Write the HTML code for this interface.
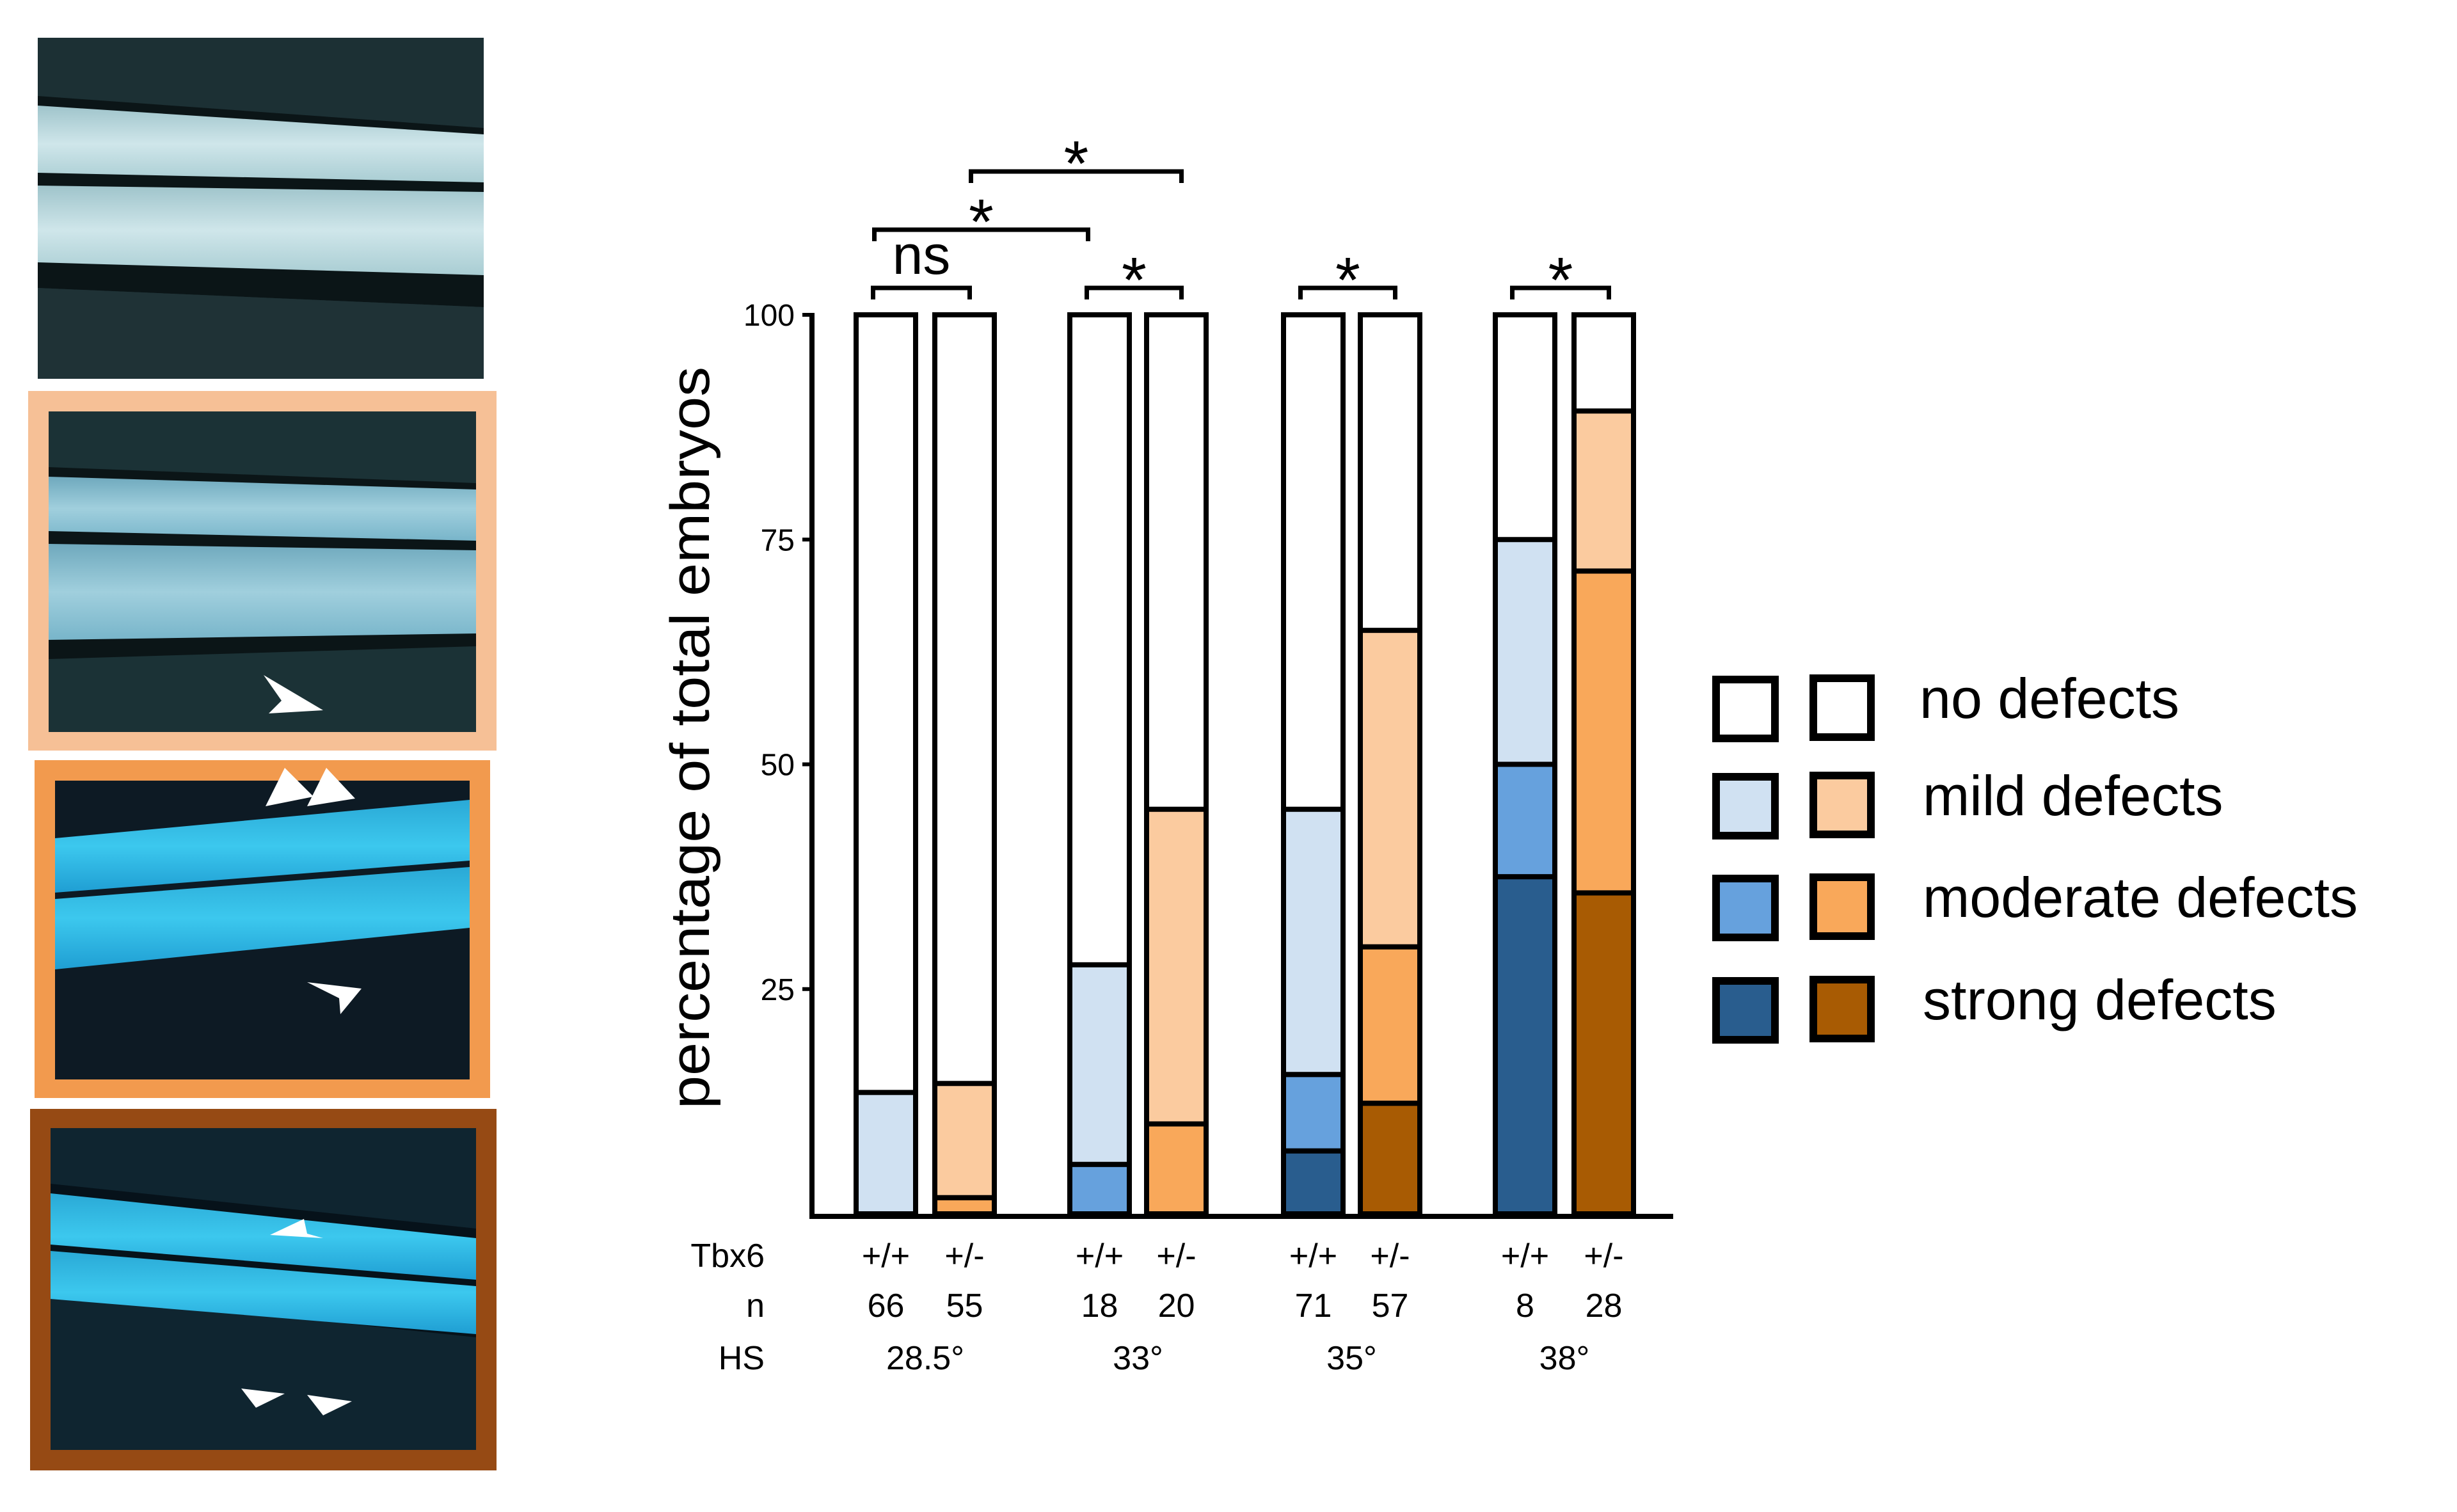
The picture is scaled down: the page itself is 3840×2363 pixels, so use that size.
<!DOCTYPE html>
<html><head><meta charset="utf-8"><style>
html,body{margin:0;padding:0;background:#fff;width:3840px;height:2363px;overflow:hidden}
svg{display:block;font-family:"Liberation Sans",sans-serif}
</style></head><body>
<svg id="fig" width="3840" height="2363" viewBox="0 0 3840 2363" xmlns="http://www.w3.org/2000/svg">
<defs>
<linearGradient id="band1" x1="0" y1="0" x2="0" y2="1"><stop offset="0" stop-color="#9fc4cb"/><stop offset="0.5" stop-color="#cfe6ea"/><stop offset="1" stop-color="#a9cdd3"/></linearGradient>
<linearGradient id="band2" x1="0" y1="0" x2="0" y2="1"><stop offset="0" stop-color="#6fa9bd"/><stop offset="0.5" stop-color="#a0cfdd"/><stop offset="1" stop-color="#78b5ca"/></linearGradient>
<linearGradient id="band3" x1="0" y1="0" x2="0" y2="1"><stop offset="0" stop-color="#2aa9d6"/><stop offset="0.5" stop-color="#3cc8ee"/><stop offset="1" stop-color="#1f9ed3"/></linearGradient>
</defs>
<g id="panels">
 <g>
  <rect x="59" y="59" width="697" height="533" fill="#1c3034"/>
  <polygon points="59,150 756,200 756,480 59,450" fill="#0b1517"/>
  <polygon points="59,165 756,210 756,285 59,270" fill="url(#band1)"/>
  <polygon points="59,290 756,300 756,430 59,410" fill="url(#band1)"/>
  <polygon points="59,450 756,480 756,592 59,592" fill="#1f3236"/>
 </g>
 <g>
  <rect x="44" y="611" width="732" height="562" fill="#f6c096"/>
  <rect x="76" y="643" width="668" height="501" fill="#1b3236"/>
  <polygon points="76,730 744,755 744,1010 76,1030" fill="#0b1517"/>
  <polygon points="76,745 744,765 744,845 76,830" fill="url(#band2)"/>
  <polygon points="76,850 744,860 744,990 76,1000" fill="url(#band2)"/>
  <polygon points="412,1055 440,1095 420,1115 505,1110" fill="#fff"/>
 </g>
 <g>
  <rect x="54" y="1188" width="712" height="528" fill="#f29a4e"/>
  <rect x="86" y="1220" width="648" height="467" fill="#0d1a24"/>
  <polygon points="86,1310 734,1250 734,1345 86,1395" fill="url(#band3)"/>
  <polygon points="86,1405 734,1355 734,1450 86,1515" fill="url(#band3)"/>
  <polygon points="445,1200 415,1260 490,1245" fill="#fff"/>
  <polygon points="510,1200 480,1260 555,1248" fill="#fff"/>
  <polygon points="480,1535 530,1560 532,1585 565,1545" fill="#fff"/>
 </g>
 <g>
  <rect x="47" y="1733" width="729" height="565" fill="#964a14"/>
  <rect x="79" y="1763" width="665" height="503" fill="#0f2530"/>
  <polygon points="79,1850 744,1920 744,2090 79,2020" fill="#06121a"/>
  <polygon points="79,1865 744,1935 744,2000 79,1945" fill="url(#band3)"/>
  <polygon points="79,1955 744,2010 744,2085 79,2030" fill="url(#band3)"/>
  <polygon points="422,1930 475,1905 480,1928 505,1935" fill="#fff"/>
  <polygon points="377,2170 400,2200 445,2178" fill="#fff"/>
  <polygon points="480,2180 505,2212 550,2190" fill="#fff"/>
 </g>
</g>
<g id="chart"></g>
<g id="legend"></g>
</svg>
<script>
const categories = ["+/+","+/-","+/+","+/-","+/+","+/-","+/+","+/-"];
const nValues = ["66","55","18","20","71","57","8","28"];
const hsLabels = ["28.5°","33°","35°","38°"];
const strong = [0,0,0,0,7,12.3,37.5,35.7];
const moderate = [0,1.8,5.5,10,8.5,17.4,12.5,35.8];
const mild = [13.5,12.7,22.2,35,29.5,35.2,25,17.8];
const yTicks = [25,50,75,100];
const legendLabels = ["no defects","mild defects","moderate defects","strong defects"];

const NS="http://www.w3.org/2000/svg";
const chart=document.getElementById('chart');
const legend=document.getElementById('legend');
function mk(tag,attrs,parent){const e=document.createElementNS(NS,tag);for(const k in attrs)e.setAttribute(k,attrs[k]);parent.appendChild(e);return e;}
const Y0=1897, Y100=492;
function y(v){return Y0-(Y0-Y100)*v/100;}
const barW=93, barStart=1338;
const offsets=[0,123,334,454,668,788,999,1122];
function xL(i){return barStart+offsets[i];}
function xC(i){return xL(i)+barW/2;}
const blues={mild:"#d0e1f2",moderate:"#66a1dd",strong:"#295d8e"};
const oranges={mild:"#fbcb9f",moderate:"#f9a85a",strong:"#a85b03"};

for(let i=0;i<categories.length;i++){
  const pal=i%2===0?blues:oranges;
  const g=mk('g',{},chart);
  
  
  const segs=[["strong",strong[i]],["moderate",moderate[i]],["mild",mild[i]]];
  let acc=0;
  mk('rect',{x:xL(i),y:y(100),width:barW,height:y(0)-y(100),fill:"#fff",stroke:"#000","stroke-width":8},g);
  for(const [k,v] of segs){
    if(v<=0)continue;
    const r=mk('rect',{x:xL(i),y:y(acc+v),width:barW,height:y(acc)-y(acc+v),fill:pal[k],stroke:"#000","stroke-width":8},g);
    
    
    acc+=v;
  }
}
const ax=mk('path',{d:`M1269,${Y100-3} V${Y0+4} H2615`,fill:"none",stroke:"#000","stroke-width":8},chart);


for(const t of yTicks){
  mk('line',{x1:1254,x2:1269,y1:y(t),y2:y(t),stroke:"#000","stroke-width":6},chart);
  const tx=mk('text',{x:1242,y:y(t)+17,"text-anchor":"end","font-size":48},chart);
  tx.textContent=t;
  
  
}
const yt=mk('text',{transform:"translate(1108,1153) rotate(-90)","text-anchor":"middle","font-size":86,textLength:1160,lengthAdjust:"spacingAndGlyphs"},chart);
yt.textContent="percentage of total embryos";


const rows=[["Tbx6",1980],["n",2058],["HS",2140]];
for(const [s,yy] of rows){
  const t=mk('text',{x:1195,y:yy,"text-anchor":"end","font-size":52},chart);
  t.textContent=s;
  
  
}
for(let i=0;i<categories.length;i++){
  const t=mk('text',{x:xC(i),y:1980,"text-anchor":"middle","font-size":52},chart);
  t.textContent=categories[i];
  
  
  const n=mk('text',{x:xC(i),y:2058,"text-anchor":"middle","font-size":52},chart);
  n.textContent=nValues[i];
  
  
}
for(let j=0;j<hsLabels.length;j++){
  const t=mk('text',{x:(xC(2*j)+xC(2*j+1))/2,y:2140,"text-anchor":"middle","font-size":52},chart);
  t.textContent=hsLabels[j];
  
  
}
function bracket(a,b,yy,label,size,name,dl,dr){
  const x1=xC(a)+dl, x2=xC(b)+dr;
  const p=mk('path',{d:`M${x1},${yy+18} V${yy} H${x2} V${yy+18}`,fill:"none",stroke:"#000","stroke-width":7},chart);
  
  
  const t=mk('text',{x:(x1+x2)/2,y:label==="ns"?yy-22:yy+22,"text-anchor":"middle","font-size":size},chart);
  t.textContent=label;
  
  
}
bracket(0,1,450,"ns",86,"bracket-28-5",-20,8);
bracket(2,3,450,"*",100,"bracket-33",-20,8);
bracket(4,5,450,"*",100,"bracket-35",-20,8);
bracket(6,7,450,"*",100,"bracket-38",-20,8);
bracket(0,2,359,"*",100,"bracket-wt-28-33",-18,-18);
bracket(1,3,268,"*",100,"bracket-het-28-33",10,8);
const lgY=[1056,1208,1367,1527];
const keys=[null,"mild","moderate","strong"];
for(let r=0;r<4;r++){
  const k=keys[r];
  const b=mk('rect',{x:2682,y:lgY[r]+6,width:92,height:92,fill:k?blues[k]:"#fff",stroke:"#000","stroke-width":12},legend);
  
  
  const o=mk('rect',{x:2834,y:lgY[r]+4,width:90,height:92,fill:k?oranges[k]:"#fff",stroke:"#000","stroke-width":12},legend);
  
  
  const t=mk('text',{x:r===0?3000:3005,y:lgY[r]+66,"font-size":88},legend);
  t.textContent=legendLabels[r];
  
  
}
</script>
</body></html>
